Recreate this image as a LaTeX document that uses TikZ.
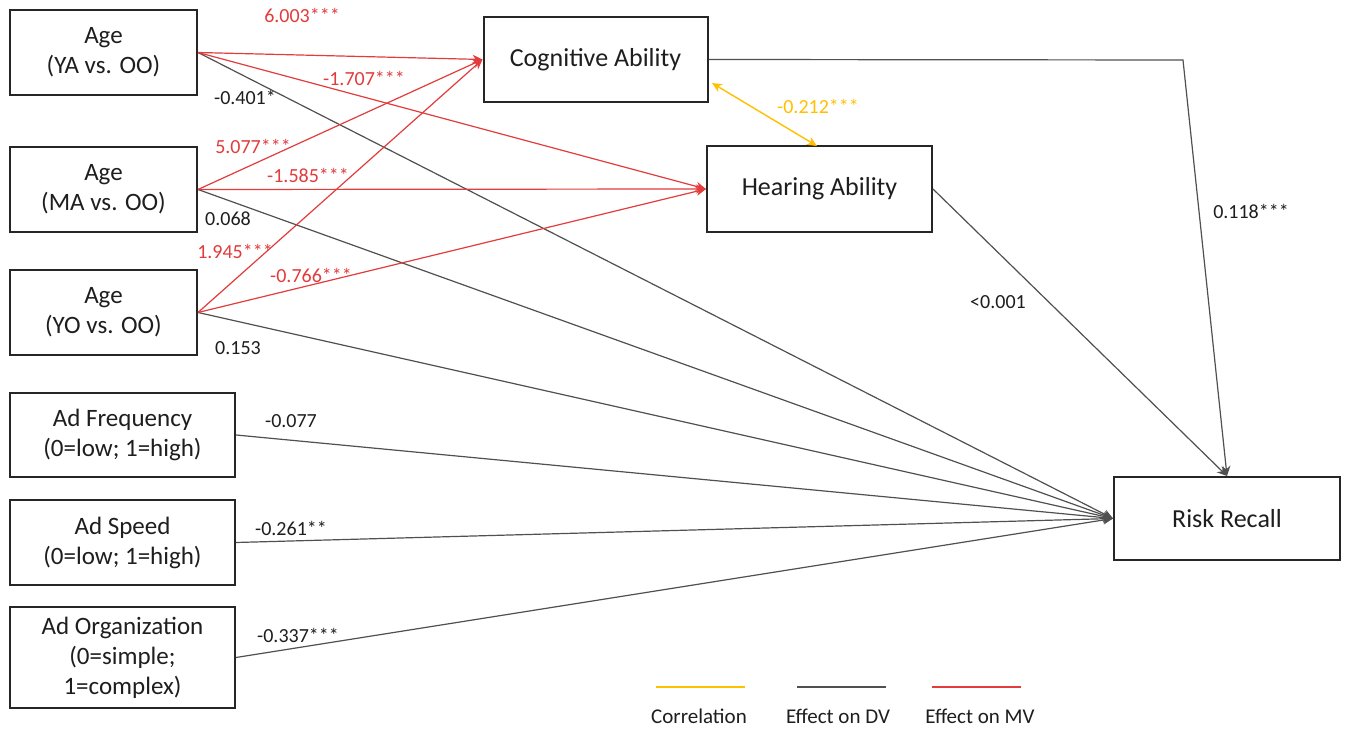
\documentclass[tikz,border=0pt]{standalone}
\usepackage{fontspec}
\setmainfont{Carlito}
\usetikzlibrary{arrows.meta,calc}
\definecolor{mvred}{RGB}{226,60,60}
\definecolor{dvgray}{RGB}{80,80,80}
\definecolor{corryel}{RGB}{255,192,0}
\definecolor{txtblk}{RGB}{30,30,30}
\tikzset{
  box/.style={draw=black!85, line width=1pt, rectangle, align=center, inner sep=0pt,
    font=\fontsize{12.5}{15}\selectfont, text=txtblk},
  mvline/.style={draw=mvred, line width=0.6pt, -{Stealth[length=5pt,width=4.5pt]}},
  dvline/.style={draw=dvgray, line width=0.6pt, -{Stealth[length=5pt,width=4.5pt]}},
  corrline/.style={draw=corryel, line width=0.7pt, {Stealth[length=5pt,width=4.5pt]}-{Stealth[length=5pt,width=4.5pt]}},
  mvlab/.style={text=mvred, font=\fontsize{10}{12}\selectfont, inner sep=0pt},
  dvlab/.style={text=txtblk, font=\fontsize{10}{12}\selectfont, inner sep=0pt},
  corrlab/.style={text=corryel, font=\fontsize{10}{12}\selectfont, inner sep=0pt},
  leglab/.style={text=txtblk, font=\fontsize{10.5}{12}\selectfont, inner sep=0pt},
}
\begin{document}
\begin{tikzpicture}[x=0.5pt,y=-0.5pt]
\path[use as bounding box, fill=white] (0,0) rectangle (1346,731);

% boxes
\node[box, minimum width=93.5pt, minimum height=42.5pt] (ya) at (103.5,52.5) {Age\\(YA vs. OO)};
\node[box, minimum width=93.5pt, minimum height=42.5pt] (ma) at (103.5,189.5) {Age\\(MA vs. OO)};
\node[box, minimum width=93.5pt, minimum height=42.5pt] (yo) at (103.5,312.5) {Age\\(YO vs. OO)};
\node[box, minimum width=112.5pt, minimum height=42pt] (freq) at (122.5,435) {Ad Frequency\\(0=low; 1=high)};
\node[box, minimum width=112.5pt, minimum height=42.5pt] (speed) at (122.5,542.5) {Ad Speed\\(0=low; 1=high)};
\node[box, minimum width=112.5pt, minimum height=50.5pt] (org) at (122.5,657.5) {Ad Organization\\(0=simple;\\1=complex)};
\node[box, minimum width=112pt, minimum height=42.5pt, font=\fontsize{13}{15}\selectfont] (cog) at (595.5,59.5) {Cognitive Ability};
\node[box, minimum width=112.5pt, minimum height=43pt, font=\fontsize{13}{15}\selectfont] (hear) at (819.5,189) {Hearing Ability};
\node[box, minimum width=113pt, minimum height=41.5pt, font=\fontsize{13}{15}\selectfont] (rr) at (1227,518.5) {Risk Recall};

% effects on DV
\draw[dvline] (ya.east) -- (rr.west);
\draw[dvline] (ma.east) -- (rr.west);
\draw[dvline] (yo.east) -- (rr.west);
\draw[dvline] (freq.east) -- (rr.west);
\draw[dvline] (speed.east) -- (rr.west);
\draw[dvline] (org.east) -- (rr.west);
\draw[dvline] (hear.east) -- (rr.north);
\coordinate (bend) at (1183,60);
\draw[dvline] (cog.east) -- (bend) -- (rr.north);

% effects on MV
\draw[mvline] (ya.east) -- (cog.west);
\draw[mvline] (ya.east) -- (hear.west);
\draw[mvline] (ma.east) -- (cog.west);
\draw[mvline] (ma.east) -- (hear.west);
\draw[mvline] (yo.east) -- (cog.west);
\draw[mvline] (yo.east) -- (hear.west);

% correlation
\coordinate (c1) at (712,83);
\coordinate (h1) at (817,146);
\draw[corrline] (c1) -- (h1);

% labels
\node[mvlab] (l1) at (302,15) {6.003***};
\node[mvlab] (l2) at (364,78) {-1.707***};
\node[dvlab] (l3) at (245,97) {-0.401*};
\node[mvlab] (l4) at (253,146) {5.077***};
\node[mvlab] (l5) at (308,175) {-1.585***};
\node[dvlab] (l6) at (228,219) {0.068};
\node[mvlab] (l7) at (235,251) {1.945***};
\node[mvlab] (l8) at (311,275) {-0.766***};
\node[dvlab] (l9) at (238,348) {0.153};
\node[corrlab] (l10) at (818,106) {-0.212***};
\node[dvlab] (l11) at (998,302) {<0.001};
\node[dvlab] (l12) at (1251,211) {0.118***};
\node[dvlab] (l13) at (291,421) {-0.077};
\node[dvlab] (l14) at (291,528) {-0.261**};
\node[dvlab] (l15) at (298,635) {-0.337***};

% legend
\coordinate (ya1) at (656,687); \coordinate (ya2) at (745,687);
\coordinate (dg1) at (797,687); \coordinate (dg2) at (886,687);
\coordinate (mr1) at (932,687); \coordinate (mr2) at (1021,687);
\draw[draw=corryel, line width=1pt] (ya1) -- (ya2);
\draw[draw=dvgray, line width=1pt] (dg1) -- (dg2);
\draw[draw=mvred, line width=1pt] (mr1) -- (mr2);
\node[leglab] (lg1) at (699,716) {Correlation};
\node[leglab] (lg2) at (838,716) {Effect on DV};
\node[leglab] (lg3) at (980,716) {Effect on MV};
\end{tikzpicture}
\end{document}
